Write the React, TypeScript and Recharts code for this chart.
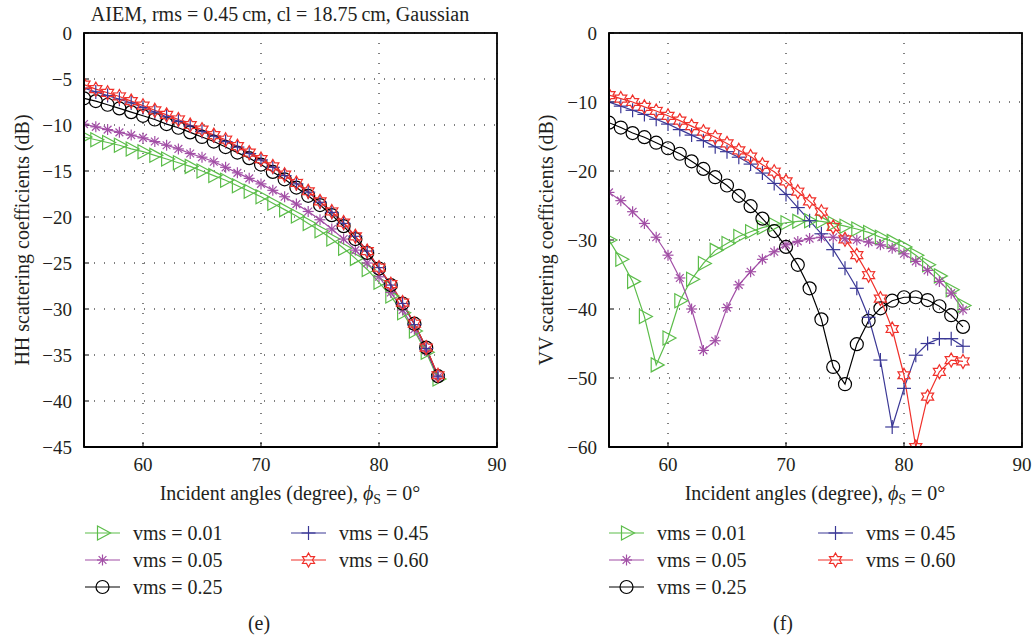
import React from 'react';
import { LineChart, Line, XAxis, YAxis, CartesianGrid } from 'recharts';

// ---------- data ----------
const angles = [55, 56, 57, 58, 59, 60, 61, 62, 63, 64, 65, 66, 67, 68, 69, 70, 71, 72, 73, 74, 75, 76, 77, 78, 79, 80, 81, 82, 83, 84, 85];

const hhVms001 = [-11.3, -11.6, -11.9, -12.2, -12.6, -12.9, -13.3, -13.7, -14.1, -14.5, -15.0, -15.5, -16.0, -16.6, -17.2, -17.8, -18.5, -19.2, -19.9, -20.7, -21.5, -22.4, -23.4, -24.5, -25.7, -27.1, -28.6, -30.4, -32.4, -34.7, -37.6];
const hhVms005 = [-9.9, -10.2, -10.5, -10.8, -11.1, -11.4, -11.8, -12.2, -12.6, -13.1, -13.5, -14.0, -14.6, -15.2, -15.8, -16.4, -17.1, -17.8, -18.6, -19.4, -20.3, -21.3, -22.4, -23.6, -25.0, -26.5, -28.2, -30.1, -32.2, -34.5, -37.4];
const hhVms025 = [-7.1, -7.4, -7.8, -8.2, -8.6, -9.0, -9.4, -9.9, -10.3, -10.8, -11.3, -11.8, -12.4, -13.0, -13.6, -14.3, -15.1, -15.9, -16.8, -17.7, -18.7, -19.8, -21.0, -22.4, -23.9, -25.6, -27.4, -29.4, -31.6, -34.2, -37.3];
const hhVms045 = [-6.0, -6.4, -6.8, -7.2, -7.6, -8.1, -8.6, -9.1, -9.6, -10.1, -10.7, -11.2, -11.8, -12.4, -13.1, -13.8, -14.6, -15.5, -16.4, -17.3, -18.4, -19.5, -20.7, -22.1, -23.7, -25.5, -27.4, -29.4, -31.7, -34.3, -37.3];
const hhVms060 = [-5.6, -6.1, -6.5, -6.9, -7.4, -7.9, -8.4, -8.9, -9.4, -10.0, -10.5, -11.1, -11.6, -12.3, -13.0, -13.7, -14.5, -15.4, -16.3, -17.2, -18.3, -19.4, -20.6, -22.1, -23.7, -25.5, -27.3, -29.3, -31.6, -34.2, -37.2];

const vvVms001 = [-30.0, -32.8, -36.0, -41.1, -48.1, -44.2, -38.8, -35.7, -33.4, -31.5, -30.5, -29.5, -28.8, -28.2, -27.8, -27.5, -27.3, -27.2, -27.3, -27.6, -28.0, -28.4, -28.9, -29.6, -30.2, -31.0, -32.2, -33.6, -35.2, -37.2, -39.5];
const vvVms005 = [-23.1, -24.3, -25.9, -27.6, -29.6, -32.2, -35.5, -40.0, -46.0, -44.6, -39.8, -36.5, -34.6, -32.8, -31.7, -30.7, -30.2, -29.8, -29.6, -29.6, -29.8, -30.0, -30.3, -30.7, -31.2, -32.0, -33.1, -34.4, -36.0, -37.7, -40.1];
const vvVms025 = [-13.0, -13.7, -14.5, -15.1, -15.9, -16.7, -17.5, -18.6, -19.7, -20.9, -22.1, -23.6, -25.1, -26.9, -28.7, -31.0, -33.6, -37.0, -41.5, -48.4, -50.9, -45.1, -41.7, -39.9, -38.8, -38.3, -38.3, -38.7, -39.6, -40.9, -42.6];
const vvVms045 = [-10.0, -10.6, -11.2, -11.8, -12.5, -13.2, -14.0, -14.8, -15.6, -16.5, -17.2, -18.0, -19.0, -20.3, -21.8, -23.4, -25.3, -27.2, -29.1, -31.4, -34.1, -37.0, -41.2, -47.4, -57.1, -51.5, -46.7, -45.0, -44.3, -44.3, -45.4];
const vvVms060 = [-9.0, -9.5, -10.0, -10.7, -11.3, -12.0, -12.7, -13.5, -14.3, -15.1, -16.0, -17.0, -17.9, -19.1, -20.1, -21.5, -23.0, -24.4, -25.9, -28.1, -29.9, -32.2, -35.1, -38.5, -42.9, -49.6, -60.0, -52.7, -49.1, -47.4, -47.6];

const xTicks = [60, 70, 80, 90];
const hhTicks = [0, -5, -10, -15, -20, -25, -30, -35, -40, -45];
const vvTicks = [0, -10, -20, -30, -40, -50, -60];
const seriesLabels = ['vms = 0.01', 'vms = 0.05', 'vms = 0.25', 'vms = 0.45', 'vms = 0.60'];
const titleText = 'AIEM, rms = 0.45\u2009cm, cl = 18.75\u2009cm, Gaussian';

// ---------- style ----------
const FONT = "'Liberation Serif', 'Times New Roman', serif";
const TEXT_COLOR = '#231f20';
type Shape = 'tri' | 'asterisk' | 'circle' | 'plus' | 'star6';
const seriesStyle: { key: string; color: string; shape: Shape }[] = [
  { key: 's001', color: '#5cbd4a', shape: 'tri' },
  { key: 's005', color: '#a24fa6', shape: 'asterisk' },
  { key: 's025', color: '#000000', shape: 'circle' },
  { key: 's045', color: '#3b3896', shape: 'plus' },
  { key: 's060', color: '#f0302a', shape: 'star6' },
];

const buildRows = (s: number[][]) =>
  angles.map((a, i) => ({ angle: a, s001: s[0][i], s005: s[1][i], s025: s[2][i], s045: s[3][i], s060: s[4][i] }));

const hhRows = buildRows([hhVms001, hhVms005, hhVms025, hhVms045, hhVms060]);
const vvRows = buildRows([vvVms001, vvVms005, vvVms025, vvVms045, vvVms060]);

function markerEl(shape: Shape, cx: number, cy: number, color: string, key?: any) {
  const common = { fill: 'none', stroke: color, strokeWidth: 1.2 };
  if (shape === 'tri') {
    return <polygon key={key} points={`${cx - 5},${cy - 7} ${cx + 8},${cy} ${cx - 5},${cy + 7}`} {...common} />;
  }
  if (shape === 'circle') {
    return <circle key={key} cx={cx} cy={cy} r={6.5} {...common} />;
  }
  if (shape === 'plus') {
    return (
      <g key={key} {...common}>
        <line x1={cx - 7} y1={cy} x2={cx + 7} y2={cy} />
        <line x1={cx} y1={cy - 7} x2={cx} y2={cy + 7} />
      </g>
    );
  }
  if (shape === 'asterisk') {
    const r = 5.5;
    const d = r * 0.7071;
    return (
      <g key={key} {...common}>
        <line x1={cx - r} y1={cy} x2={cx + r} y2={cy} />
        <line x1={cx} y1={cy - r} x2={cx} y2={cy + r} />
        <line x1={cx - d} y1={cy - d} x2={cx + d} y2={cy + d} />
        <line x1={cx - d} y1={cy + d} x2={cx + d} y2={cy - d} />
      </g>
    );
  }
  const pts: string[] = [];
  for (let k = 0; k < 12; k++) {
    const ang = (-90 + k * 30) * (Math.PI / 180);
    const rr = k % 2 === 0 ? 7 : 4;
    pts.push(`${(cx + rr * Math.cos(ang)).toFixed(2)},${(cy + rr * Math.sin(ang)).toFixed(2)}`);
  }
  return <polygon key={key} points={pts.join(' ')} {...common} />;
}

const makeDot = (shape: Shape, color: string) => (props: any) => {
  const { cx, cy, index } = props;
  if (cx == null || cy == null) return <g key={`d-${index}`} />;
  return markerEl(shape, cx, cy, color, `d-${index}`);
};

const minusFmt = (v: number) => String(v).replace('-', '\u2212');
const tickStyle = { fontFamily: FONT, fontSize: 19, fill: TEXT_COLOR };
const axisLineStyle = { stroke: '#000', strokeWidth: 1.8 };
const tickLineStyle = { stroke: '#000', strokeWidth: 1 };

// plot frames (top/right borders of the axes boxes)
const frames = [
  { x: 84, y: 33, w: 413, h: 414 },
  { x: 609, y: 33, w: 413, h: 414 },
];

function Panel({ rows, yTicks, yMin, left, width, yAxisWidth, rightMargin }: any) {
  return (
    <div style={{ position: 'absolute', left, top: 0, fontFamily: FONT }}>
      <LineChart width={width} height={480} data={rows} margin={{ top: 33, right: rightMargin, bottom: 3, left: 0 }}>
        <CartesianGrid stroke="#000" strokeWidth={1} strokeDasharray="1 9" />
        <XAxis
          type="number"
          dataKey="angle"
          domain={[55, 90]}
          ticks={xTicks}
          allowDataOverflow
          height={30}
          tickSize={-5}
          tickMargin={16}
          tick={tickStyle}
          axisLine={axisLineStyle}
          tickLine={tickLineStyle}
        />
        <YAxis
          type="number"
          domain={[yMin, 0]}
          ticks={yTicks}
          allowDataOverflow
          width={yAxisWidth}
          tickSize={-5}
          tickMargin={17}
          tick={tickStyle}
          tickFormatter={minusFmt}
          axisLine={axisLineStyle}
          tickLine={tickLineStyle}
        />
        {seriesStyle.map((s) => (
          <Line
            key={s.key}
            type="linear"
            dataKey={s.key}
            stroke={s.color}
            strokeWidth={1.2}
            dot={makeDot(s.shape, s.color)}
            activeDot={false}
            isAnimationActive={false}
          />
        ))}
      </LineChart>
    </div>
  );
}

function LegendItem({ x, y, idx }: { x: number; y: number; idx: number }) {
  const s = seriesStyle[idx];
  return (
    <div style={{ position: 'absolute', left: x, top: y - 12, height: 24, display: 'flex', alignItems: 'center' }}>
      <svg width={36} height={24} style={{ display: 'block' }}>
        <line x1={0} y1={12} x2={35} y2={12} stroke={s.color} strokeWidth={1.2} />
        {markerEl(s.shape, 17.5, 12, s.color)}
      </svg>
      <span style={{ marginLeft: 12, fontFamily: FONT, fontSize: 20, color: TEXT_COLOR, whiteSpace: 'nowrap', lineHeight: '24px' }}>
        {seriesLabels[idx]}
      </span>
    </div>
  );
}

function Legend({ x1, x2 }: { x1: number; x2: number }) {
  const rows = [533, 560, 587];
  return (
    <>
      <LegendItem x={x1} y={rows[0]} idx={0} />
      <LegendItem x={x1} y={rows[1]} idx={1} />
      <LegendItem x={x1} y={rows[2]} idx={2} />
      <LegendItem x={x2} y={rows[0]} idx={3} />
      <LegendItem x={x2} y={rows[1]} idx={4} />
    </>
  );
}

function XLabel({ cx }: { cx: number }) {
  return (
    <div style={{ position: 'absolute', left: cx - 200, width: 400, top: 480, textAlign: 'center', fontFamily: FONT, fontSize: 20, color: TEXT_COLOR, lineHeight: '26px', whiteSpace: 'nowrap' }}>
      Incident angles (degree), <i>ϕ</i>
      <sub style={{ fontSize: 14, lineHeight: 0, verticalAlign: '-0.25em' }}>S</sub> = 0°
    </div>
  );
}

function YLabel({ cx, text }: { cx: number; text: string }) {
  return (
    <div
      style={{
        position: 'absolute',
        left: cx - 200,
        top: 240 - 13,
        width: 400,
        height: 26,
        lineHeight: '26px',
        textAlign: 'center',
        transform: 'rotate(-90deg)',
        fontFamily: FONT,
        fontSize: 20,
        color: TEXT_COLOR,
        whiteSpace: 'nowrap',
      }}
    >
      {text}
    </div>
  );
}

export default function App() {
  return (
    <div style={{ position: 'absolute', left: 0, top: 0, width: 1033, height: 639, background: '#fff', overflow: 'hidden', fontFamily: FONT }}>
      <div style={{ position: 'absolute', left: 80, width: 400, top: 1, textAlign: 'center', fontFamily: FONT, fontSize: 20, color: TEXT_COLOR, lineHeight: '26px', whiteSpace: 'nowrap' }}>
        {titleText}
      </div>
      <Panel rows={hhRows} yTicks={hhTicks} yMin={-45} left={0} width={520} yAxisWidth={84} rightMargin={23} />
      <Panel rows={vvRows} yTicks={vvTicks} yMin={-60} left={520} width={513} yAxisWidth={89} rightMargin={11} />
      <svg width={1033} height={639} style={{ position: 'absolute', left: 0, top: 0, pointerEvents: 'none' }}>
        {frames.map((f, i) => (
          <rect key={i} x={f.x} y={f.y} width={f.w} height={f.h} fill="none" stroke="#000" strokeWidth={1.8} />
        ))}
      </svg>
      <YLabel cx={22} text="HH scattering coefficients (dB)" />
      <YLabel cx={546} text="VV scattering coefficients (dB)" />
      <XLabel cx={290} />
      <XLabel cx={815} />
      <Legend x1={85} x2={291} />
      <Legend x1={609} x2={818} />
      <div style={{ position: 'absolute', left: 239, width: 40, top: 610, textAlign: 'center', fontFamily: FONT, fontSize: 20, color: TEXT_COLOR, lineHeight: '26px' }}>(e)</div>
      <div style={{ position: 'absolute', left: 763, width: 40, top: 610, textAlign: 'center', fontFamily: FONT, fontSize: 20, color: TEXT_COLOR, lineHeight: '26px' }}>(f)</div>
    </div>
  );
}
